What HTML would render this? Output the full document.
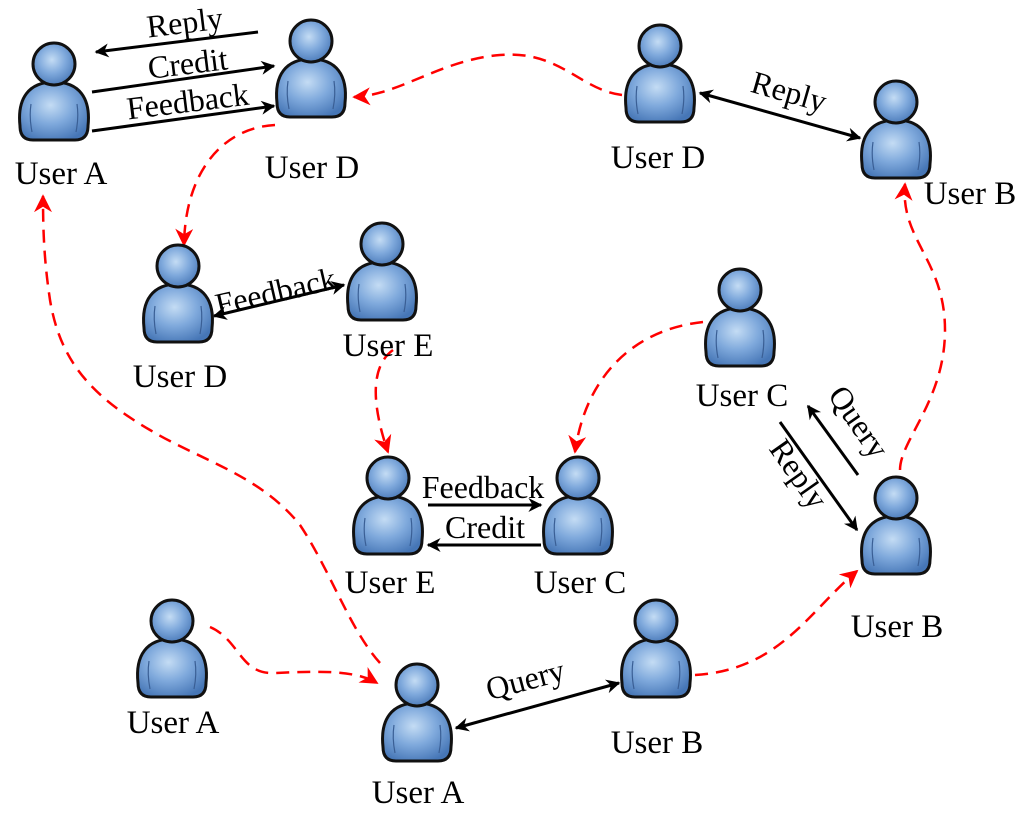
<!DOCTYPE html>
<html><head><meta charset="utf-8"><style>
html,body{margin:0;padding:0;background:#fff;}
svg{display:block;}
</style></head><body>
<svg width="1024" height="815" viewBox="0 0 1024 815" xmlns="http://www.w3.org/2000/svg" font-family="'Liberation Serif','DejaVu Serif',serif">
<defs>
<radialGradient id="g" cx="0.45" cy="0.4" r="0.65">
<stop offset="0" stop-color="#c4dcf4"/><stop offset="0.5" stop-color="#7fa9dc"/><stop offset="1" stop-color="#4676b6"/>
</radialGradient>
<g id="u">
<path d="M3,84 C0,56 12,40 37,40 C62,40 74,56 71,84 Q71,98 58,98 L16,98 Q3,98 3,84 Z" fill="url(#g)" stroke="#111" stroke-width="3"/>
<path d="M14,62 Q12,75 15,90 M60,62 Q62,75 59,90" fill="none" stroke="#3a5f95" stroke-width="1.2"/>
<circle cx="37" cy="22" r="21" fill="url(#g)" stroke="#111" stroke-width="3"/>
</g>
<marker id="ab" viewBox="0 0 10 10" refX="9" refY="5" markerWidth="16" markerHeight="14" orient="auto-start-reverse" markerUnits="userSpaceOnUse"><path d="M0,0 L10,5 L0,10 L3,5 Z" fill="#000"/></marker>
<marker id="ar" viewBox="0 0 10 10" refX="9" refY="5" markerWidth="18" markerHeight="18" orient="auto" markerUnits="userSpaceOnUse"><path d="M0,0 L10,5 L0,10 L3,5 Z" fill="#f00"/></marker>
</defs>
<style>
.b{stroke:#000;stroke-width:3;fill:none;}
.r{stroke:#f00;stroke-width:2.5;fill:none;stroke-dasharray:13,8;}
</style>
<g class="r">
<path d="M622,95 C580,90 560,50 500,55 C440,60 400,95 354,97" marker-end="url(#ar)"/>
<path d="M275,125 C220,128 185,175 184,245" marker-end="url(#ar)"/>
<path d="M393,350 C372,365 370,400 388,452" marker-end="url(#ar)"/>
<path d="M703,322 C630,330 585,380 575,452" marker-end="url(#ar)"/>
<path d="M900,470 C900,440 945,400 945,330 C945,260 900,240 905,184" marker-end="url(#ar)"/>
<path d="M695,675 C780,670 810,610 857,571" marker-end="url(#ar)"/>
<path d="M210,627 C240,640 240,675 275,673 C320,671 355,670 377,683" marker-end="url(#ar)"/>
<path d="M380,663 C350,630 330,570 300,525 C260,475 200,460 150,430 C90,395 60,360 50,300 C44,260 43,230 43,196" marker-end="url(#ar)"/>
</g>
<g class="b">
<line x1="258" y1="32" x2="96" y2="52" marker-end="url(#ab)"/>
<line x1="92" y1="92" x2="274" y2="66" marker-end="url(#ab)"/>
<line x1="92" y1="131" x2="274" y2="106" marker-end="url(#ab)"/>
<line x1="700" y1="93" x2="860" y2="138" marker-start="url(#ab)" marker-end="url(#ab)"/>
<line x1="214" y1="316" x2="344" y2="285" marker-start="url(#ab)" marker-end="url(#ab)"/>
<line x1="428" y1="505" x2="541" y2="505" marker-end="url(#ab)"/>
<line x1="541" y1="545" x2="428" y2="545" marker-end="url(#ab)"/>
<line x1="858" y1="475" x2="808" y2="406" marker-end="url(#ab)"/>
<line x1="780" y1="422" x2="857" y2="530" marker-end="url(#ab)"/>
<line x1="456" y1="728" x2="619" y2="683" marker-start="url(#ab)" marker-end="url(#ab)"/>
</g>
<g font-size="32">
<text x="186" y="33" text-anchor="middle" transform="rotate(-7 186 33)">Reply</text>
<text x="189" y="74" text-anchor="middle" transform="rotate(-7 189 74)">Credit</text>
<text x="189" y="112" text-anchor="middle" transform="rotate(-7 189 112)">Feedback</text>
<text x="786" y="102" text-anchor="middle" transform="rotate(16 786 102)">Reply</text>
<text x="278" y="302" text-anchor="middle" transform="rotate(-13 278 302)">Feedback</text>
<text x="483" y="498" text-anchor="middle">Feedback</text>
<text x="485" y="538" text-anchor="middle">Credit</text>
<text x="850" y="428" text-anchor="middle" transform="rotate(55 850 428)">Query</text>
<text x="790" y="480" text-anchor="middle" transform="rotate(55 790 480)">Reply</text>
<text x="528" y="690" text-anchor="middle" transform="rotate(-15 528 690)">Query</text>
</g>
<use href="#u" x="17" y="42"/>
<use href="#u" x="274" y="19"/>
<use href="#u" x="623" y="24"/>
<use href="#u" x="859" y="80"/>
<use href="#u" x="141" y="244"/>
<use href="#u" x="345" y="222"/>
<use href="#u" x="703" y="268"/>
<use href="#u" x="351" y="456"/>
<use href="#u" x="541" y="456"/>
<use href="#u" x="859" y="476"/>
<use href="#u" x="135" y="599"/>
<use href="#u" x="380" y="663"/>
<use href="#u" x="619" y="599"/>
<g font-size="33" text-anchor="middle">
<text x="61" y="184">User A</text>
<text x="312" y="178">User D</text>
<text x="658" y="168">User D</text>
<text x="970" y="204">User B</text>
<text x="180" y="387">User D</text>
<text x="388" y="356">User E</text>
<text x="742" y="406">User C</text>
<text x="390" y="593">User E</text>
<text x="580" y="593">User C</text>
<text x="897" y="637">User B</text>
<text x="173" y="733">User A</text>
<text x="418" y="803">User A</text>
<text x="657" y="753">User B</text>
</g>
</svg>
</body></html>
